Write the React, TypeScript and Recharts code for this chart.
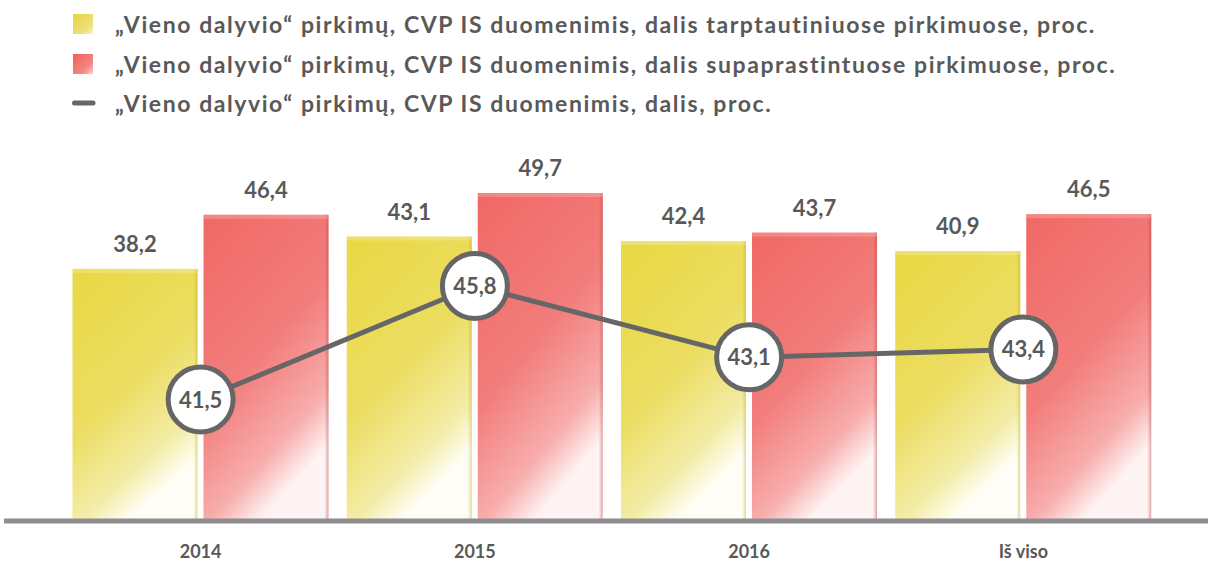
import React from 'react';
import { ComposedChart, Bar, Line, XAxis, YAxis, LabelList } from 'recharts';

const categories = ['2014', '2015', '2016', 'Iš viso'];
const internationalShare = [38.2, 43.1, 42.4, 40.9];
const simplifiedShare = [46.4, 49.7, 43.7, 46.5];
const overallShare = [41.5, 45.8, 43.1, 43.4];
const seriesNames = [
  '„Vieno dalyvio“ pirkimų, CVP IS duomenimis, dalis tarptautiniuose pirkimuose, proc.',
  '„Vieno dalyvio“ pirkimų, CVP IS duomenimis, dalis supaprastintuose pirkimuose, proc.',
  '„Vieno dalyvio“ pirkimų, CVP IS duomenimis, dalis, proc.',
];

const data = categories.map((c, i) => ({
  cat: c,
  intl: internationalShare[i],
  simp: simplifiedShare[i],
  all: overallShare[i],
}));

const FONT = 'Lato, "Open Sans", sans-serif';
const TEXT = '#595959';
const fmt = (v: number) => String(v).replace('.', ',');

const BarShape = (props: any) => {
  const { x, y, width, height, gradId, edge } = props;
  if (!height || height <= 0) return null;
  return (
    <g>
      <rect x={x} y={y} width={width} height={height} fill={`url(#${gradId})`} />
      <rect x={x + width - 4} y={y} width={4} height={height} fill={`url(#${edge})`} />
      <rect x={x} y={y} width={width} height={4} fill="#ffffff" opacity={0.2} />
    </g>
  );
};

const Dot = (props: any) => {
  const { cx, cy, value } = props;
  if (cx == null || cy == null) return null;
  const v = Array.isArray(value) ? value[1] : value;
  return (
    <g>
      <circle cx={cx} cy={cy} r={32.5} fill="#ffffff" stroke="#666666" strokeWidth={5} />
      <text x={cx} y={cy} dy={8} textAnchor="middle" fontFamily={FONT} fontWeight={700} fontSize={22} fill={TEXT}>
        {fmt(v)}
      </text>
    </g>
  );
};

const BarLabel = (props: any) => {
  const { x, y, width, value } = props;
  return (
    <text x={x + width / 2} y={y - 17} textAnchor="middle" fontFamily={FONT} fontWeight={700} fontSize={22} fill={TEXT}>
      {fmt(value)}
    </text>
  );
};

const Legend = () => (
  <div style={{ position: 'absolute', left: 0, top: 0, width: 1208 }}>
    {seriesNames.map((name, i) => (
      <div key={i} style={{ position: 'absolute', left: 72, top: 8 + i * 39.5, height: 32, display: 'flex', alignItems: 'center', whiteSpace: 'nowrap' }}>
        <svg width={32} height={24} style={{ display: 'block' }}>
          <defs>
            <linearGradient id={`lg${i}`} x1="0" y1="0" x2="1" y2="1">
              <stop offset="0" stopColor={i === 0 ? '#E6D540' : '#EE5F5E'} />
              <stop offset="0.7" stopColor={i === 0 ? '#EDE07A' : '#F48785'} />
              <stop offset="1" stopColor={i === 0 ? '#F7F1C8' : '#FBD3D3'} />
            </linearGradient>
          </defs>
          {i < 2 ? (
            <rect x={1} y={2} width={20} height={20} fill={`url(#lg${i})`} />
          ) : (
            <line x1={2.5} y1={12} x2={21} y2={12} stroke="#666666" strokeWidth={5} strokeLinecap="round" />
          )}
        </svg>
        <span style={{ marginLeft: 11, fontFamily: FONT, fontWeight: 700, fontSize: 23, letterSpacing: 1.57, color: TEXT }}>{name}</span>
      </div>
    ))}
  </div>
);

export default function App() {
  return (
    <div style={{ position: 'absolute', left: 0, top: 0, width: 1208, height: 564, background: '#ffffff' }}>
      <Legend />
      <ComposedChart
        width={1208}
        height={564}
        data={data}
        margin={{ top: 125, right: 0, bottom: 0, left: 4 }}
        barSize={125}
        barGap={6}
        style={{ position: 'absolute', left: 0, top: 0 }}
      >
        <defs>
          <linearGradient id="gYellow" x1="0" y1="0" x2="0.45" y2="1">
            <stop offset="0" stopColor="#E9D842" />
            <stop offset="0.55" stopColor="#ECDD62" />
            <stop offset="0.85" stopColor="#F3ECA6" />
            <stop offset="1" stopColor="#FFFEF6" />
          </linearGradient>
          <linearGradient id="gRed" x1="0" y1="0" x2="0.45" y2="1">
            <stop offset="0" stopColor="#F06865" />
            <stop offset="0.55" stopColor="#F27D7B" />
            <stop offset="0.85" stopColor="#F7AEAD" />
            <stop offset="1" stopColor="#FEF3F3" />
          </linearGradient>
          <linearGradient id="eYellow" x1="0" y1="0" x2="1" y2="0">
            <stop offset="0" stopColor="#BFAE1E" stopOpacity={0} />
            <stop offset="1" stopColor="#BFAE1E" stopOpacity={0.45} />
          </linearGradient>
          <linearGradient id="eRed" x1="0" y1="0" x2="1" y2="0">
            <stop offset="0" stopColor="#B84644" stopOpacity={0} />
            <stop offset="1" stopColor="#B84644" stopOpacity={0.45} />
          </linearGradient>
        </defs>
        <XAxis
          dataKey="cat"
          xAxisId="x"
          height={43}
          padding={{ left: 59.5, right: 47.5 }}
          axisLine={{ stroke: '#8E8E91', strokeWidth: 5 }}
          tickLine={false}
          tick={{ fontFamily: FONT, fontWeight: 700, fontSize: 18, fill: TEXT }}
          tickMargin={18}
        />
        <YAxis yAxisId="left" hide domain={[0, 60]} />
        <YAxis yAxisId="right" hide orientation="right" domain={[36.9, 51.9]} />
        <Bar
          dataKey="intl"
          xAxisId="x"
          yAxisId="left"
          isAnimationActive={false}
          shape={(p: any) => <BarShape {...p} gradId="gYellow" edge="eYellow" />}
        >
          <LabelList dataKey="intl" content={BarLabel} />
        </Bar>
        <Bar
          dataKey="simp"
          xAxisId="x"
          yAxisId="left"
          isAnimationActive={false}
          shape={(p: any) => <BarShape {...p} gradId="gRed" edge="eRed" />}
        >
          <LabelList dataKey="simp" content={BarLabel} />
        </Bar>
        <Line
          dataKey="all"
          xAxisId="x"
          yAxisId="right"
          stroke="#666666"
          strokeWidth={5}
          isAnimationActive={false}
          dot={<Dot />}
          activeDot={false}
        />
      </ComposedChart>
    </div>
  );
}
